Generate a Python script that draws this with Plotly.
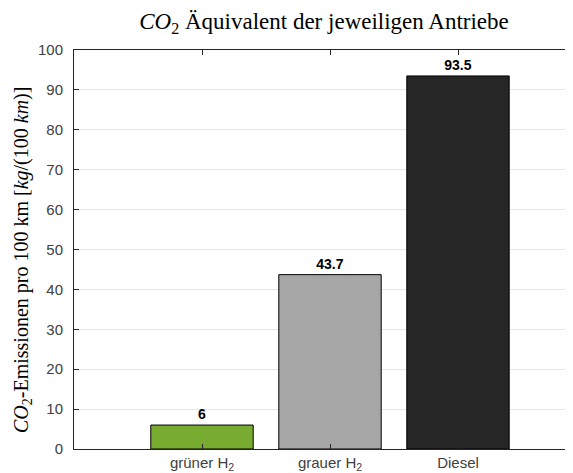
import plotly.graph_objects as go

categories = ["grüner H<sub>2</sub>", "grauer H<sub>2</sub>", "Diesel"]
values = [6, 43.7, 93.5]
value_labels = ["6", "43.7", "93.5"]
bar_colors = ["#77AC30", "#A6A6A6", "#262626"]
y_ticks = [0, 10, 20, 30, 40, 50, 60, 70, 80, 90, 100]

W, H = 573, 473
L, R, T, B = 66, 1, 42, 32
x_pos = [1, 2, 3]
px_per_unit = 128.0
x0 = 1 - (194 - L) / px_per_unit

fig = go.Figure()
fig.add_trace(go.Bar(
    x=x_pos, y=values, width=0.8,
    marker=dict(color=bar_colors, line=dict(color="#000000", width=1)),
    text=value_labels, textposition="outside", cliponaxis=False,
    textfont=dict(family="Liberation Sans, Arial, sans-serif", size=14, color="#000000"),
    texttemplate="<b>%{text}</b>",
))

axis_col = "#262626"
tick_col = "#404040"
fig.update_layout(
    template="none",
    width=W, height=H,
    margin=dict(l=L, r=R, t=T, b=B, autoexpand=False),
    paper_bgcolor="white", plot_bgcolor="white",
    showlegend=False,
    title=dict(
        text="<i>CO</i><sub>2</sub> Äquivalent der jeweiligen Antriebe",
        font=dict(family="Liberation Serif, DejaVu Serif, serif", size=23, color="#000000"),
        xref="container", x=316 / W, xanchor="center",
        yref="container", y=1 - 13 / H, yanchor="middle",
    ),
    xaxis=dict(
        range=[x0, x0 + (W - R - L) / px_per_unit],
        tickvals=x_pos, ticktext=categories,
        ticks="inside", ticklen=5, tickcolor=axis_col, tickwidth=1,
        showline=True, linecolor=axis_col, linewidth=1, mirror="ticks",
        showgrid=False, zeroline=False, automargin=False,
        ticklabelstandoff=0,
        tickfont=dict(family="Liberation Sans, Arial, sans-serif", size=15, color=tick_col),
    ),
    yaxis=dict(
        range=[0, 100],
        tickvals=y_ticks,
        ticks="inside", ticklen=5, tickcolor=axis_col, tickwidth=1,
        showline=True, linecolor=axis_col, linewidth=1, mirror="ticks",
        showgrid=True, gridcolor="#e6e6e6", gridwidth=1, zeroline=False, automargin=False,
        ticklabelstandoff=7,
        tickfont=dict(family="Liberation Sans, Arial, sans-serif", size=15, color=tick_col),
    ),
    annotations=[dict(
        text="<i>CO</i><sub>2</sub>-Emissionen pro 100 km [<i>kg</i>/(100 <i>km</i>)]",
        xref="paper", yref="paper",
        x=-(L - 14) / (W - L - R), y=(H - B - 252) / (H - T - B),
        xanchor="center", yanchor="middle",
        textangle=-90, showarrow=False,
        font=dict(family="Liberation Serif, DejaVu Serif, serif", size=20, color="#000000"),
    )],
)

fig.write_html("out.html")
